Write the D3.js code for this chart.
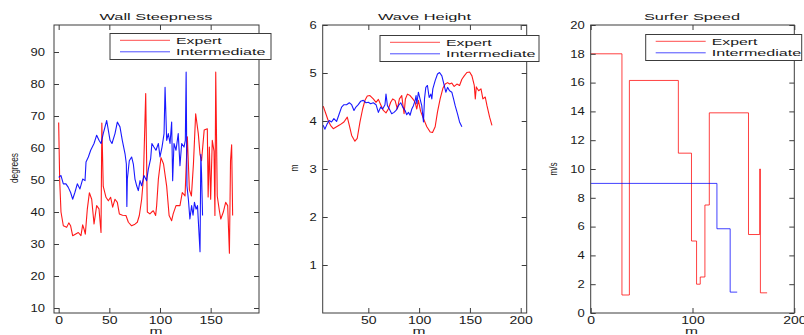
<!DOCTYPE html>
<html>
<head>
<meta charset="utf-8">
<script src="https://cdn.jsdelivr.net/npm/d3@7"></script>
<style>
  body { margin: 0; background: #fff; }
  text { font-family: "Liberation Sans", Arial, sans-serif; fill: #1a1a1a; }
</style>
</head>
<body>
<svg id="chart" width="804" height="335"></svg>
<script>
// ---- data: [distance m, value] ----
const expertWall = [[0,68],[1,50],[2.3,40],[4.6,35.7],[7.9,35.2],[10,36.6],[11.8,35.7],[13.8,32.6],[16,33],[19.4,33.6],
  [22,32.6],[23.7,36],[25,34.7],[26.3,33.1],[28.3,41],[30.3,46],[32.6,44],[34.9,36.3],[37.5,42],[39.8,41],
  [41.8,33.6],[42.6,67.8],[44,48],[46.7,44.6],[49,43.5],[51.3,44.6],[53.3,41.5],[55.6,44],[57.9,43],[59.9,39.4],
  [63,39],[66.4,38.9],[68.8,36.8],[72,35.7],[75.3,36.2],[77.6,36.8],[79.6,38.9],[81.9,44],[83.6,50.3],[85.9,77],
  [87.5,40],[90,39.4],[91.8,40],[93.4,40.4],[95.7,38.9],[96.7,42],[98.4,50.3],[101,57],[103.5,55],[106.6,48],
  [109,38.9],[111.5,37.3],[113,39.4],[115.8,42],[119.7,42],[122,46.1],[124.7,45],[127,63.5],[129,47],[131,45],
  [133,55],[135.2,70.7],[137.8,64.5],[139.5,58],[141,56],[143.6,65.6],[146.7,66],[147.5,44.7],[148.7,60.3],[150,44],
  [151.6,62.4],[153.3,59],[154.2,38.9],[155,83.7],[156.5,45],[158.6,40.4],[160,37.8],[162.5,40],[164.8,43],[166.8,42],
  [168.5,27.1],[169.6,56],[170.7,61],[171.7,38.9]];
const interWall = [[0,50.8],[2.3,51.4],[4.6,48.8],[7.2,48.8],[9.5,47.7],[11.8,46.1],[13.8,44],[16,46.1],[18.4,48.8],[21,47.2],
  [23.7,50.3],[26,49.8],[27,55.6],[29.3,57.2],[31.6,59.3],[34.9,61.4],[37.5,64],[39.8,62.4],[41.8,61.4],[44,64.5],
  [47.4,68.6],[50.7,62.4],[52.6,61.4],[55.6,64.5],[57.9,68.1],[60.5,66.6],[62.8,62.4],[65.5,58.2],[66.8,55],[67.3,41.7],
  [67.8,50.3],[69.7,56],[72,57.2],[73.7,55],[75.3,50.3],[77,48.2],[78.6,46.7],[80.3,49.8],[81.9,48.2],[84.2,51.4],
  [86.8,49.8],[88.5,53.4],[90.8,56.7],[92,61.4],[94,60.3],[96,59.3],[98.4,61.4],[100,57.2],[102,60.3],[104,64.5],
  [105,79],[106.6,62.4],[108.2,64.5],[109.9,61.4],[111.5,68.1],[112.5,49.8],[113.8,61.4],[115.8,59.3],[118,64.5],[119.7,54.5],
  [121.4,61.4],[123.7,60.3],[125,62.4],[125.8,83.7],[126.6,48.2],[128,44],[129.5,37.8],[131.2,42],[132.6,39],[134,43],
  [135.6,40.9],[137,42],[139.5,27.6],[140.3,58],[141,52],[142,38.9]];

const expertWave = [[5.6,4.31],[8.2,4.15],[10.5,4.01],[12.8,3.91],[15.5,3.84],[18.75,3.88],[22,3.92],[26,3.98],[29.3,4.08],[31.3,3.91],
  [33.6,3.7],[36.8,3.58],[39.1,3.64],[41.8,3.98],[44.4,4.25],[46.7,4.43],[49,4.52],[51.6,4.53],[54.9,4.46],[57.6,4.39],
  [59.9,4.45],[62.2,4.34],[64.8,4.22],[67.4,4.17],[69.7,4.25],[72,4.39],[74,4.46],[76.3,4.43],[78.6,4.25],[80.6,4.46],
  [82.9,4.53],[85.2,4.15],[86.5,4.46],[88.5,4.56],[91.1,4.53],[93.8,4.46],[96.1,4.39],[97.7,4.25],[99.3,4.43],[101.5,4.2],
  [104.3,4.05],[107.6,3.88],[110.9,3.77],[113.2,3.76],[115.8,3.88],[118.1,4.19],[120.7,4.46],[123.4,4.68],[125.7,4.77],[128,4.8],
  [130,4.77],[132.2,4.79],[134.5,4.72],[137.2,4.77],[139.8,4.74],[142.1,4.87],[144.4,4.94],[147,5.01],[149.7,5.02],[152,4.94],
  [154.3,4.74],[155.3,4.46],[156.3,4.71],[158.6,4.63],[160.9,4.67],[162.8,4.46],[165.1,4.5],[166.8,4.32],[169.4,4.08],[171.7,3.91]];
const interWave = [[5.6,3.91],[7.2,3.83],[9.5,3.94],[11.5,4.01],[13.8,3.98],[16.1,4.05],[18.75,3.99],[21.4,4.15],[23.7,4.29],[26,4.34],
  [28.6,4.34],[31.3,4.38],[33.6,4.34],[35.9,4.22],[37.8,4.29],[40.1,4.34],[42.4,4.41],[45.1,4.43],[47.7,4.38],[50,4.39],
  [52.3,4.36],[54.9,4.38],[57.6,4.34],[59.9,4.18],[62.2,4.29],[64.1,4.25],[66.4,4.34],[67.4,4.56],[68.8,4.32],[70.7,4.25],
  [73,4.15],[75.3,4.18],[77.3,4.22],[79.6,4.32],[81.9,4.38],[83.9,4.29],[86.2,4.22],[87.8,4.13],[89.5,4.18],[91.1,4.12],
  [92.8,4.25],[94.4,4.32],[96.1,4.43],[97,4.53],[97.7,4.36],[99.3,4.6],[100.9,4.46],[102.6,4.32],[104.3,3.98],[105.3,4.46],
  [106.6,4.7],[108.2,4.74],[109.9,4.49],[111.5,4.56],[112.5,4.46],[113.5,4.67],[115.8,4.84],[118.1,4.98],[120.1,5.01],[122.4,4.94],
  [124.7,4.74],[126.3,4.6],[128,4.7],[130,4.63],[132.2,4.6],[133.9,4.46],[135.5,4.32],[137.8,4.15],[139.8,3.98],[142.1,3.88]];

const expertSpeed = [[0,18],[30.7,1.25],[38,16.15],[86.1,11.1],[99,5],[104,2],[107.6,2.5],[112.2,7.5],[116.5,13.9],
  [155,5.45],[166,10],[166.7,1.4],[173.3,1.4]];
const interSpeed = [[0,9],[124,5.85],[137,1.45],[143.9,1.45]];

const titles = ["Wall Steepness", "Wave Height", "Surfer Speed"];
const yLabels = ["degrees", "m", "m/s"];
const seriesNames = ["Expert", "Intermediate"];
const wallTicksX = [0, 50, 100, 150], wallTicksY = [10, 20, 30, 40, 50, 60, 70, 80, 90];
const waveTicksX = [50, 100, 150, 200], waveTicksY = [1, 2, 3, 4, 5, 6];
const speedTicksX = [0, 100, 200], speedTicksY = [0, 2, 4, 6, 8, 10, 12, 14, 16, 18, 20];

const colors = ["#ff0000", "#0000ff"];

const panels = [
  { left: 54, right: 259, xDomain: [-4.6, 197.7], yDomain: [8.44, 98.44], xTicks: wallTicksX, yTicks: wallTicksY,
    series: [expertWall, interWall], step: false, yPad: 9, titleW: 113, titleX: 156,
    ylab: [18, 168, 30], xlabX: 156, legend: [110, 33.5, 161, 26] },
  { left: 322.7, right: 526.7, xDomain: [5.1, 205.9], yDomain: [0, 6], xTicks: waveTicksX, yTicks: waveTicksY,
    series: [expertWave, interWave], step: false, yPad: 6, titleW: 93, titleX: 424.5,
    ylab: [297.5, 168, 0], xlabX: 419, legend: [380, 35.5, 159, 26] },
  { left: 590.7, right: 794.3, xDomain: [0, 200], yDomain: [0, 20], xTicks: speedTicksX, yTicks: speedTicksY,
    series: [expertSpeed, interSpeed], step: true, yPad: 6, titleW: 96, titleX: 692,
    ylab: [557, 169, 13], xlabX: 691.5, legend: [645.7, 34.5, 156, 26] }
];
const plotTop = 25, plotBottom = 313;

const svg = d3.select("#chart");
svg.append("rect").attr("width", 804).attr("height", 335).attr("fill", "#fff");

function stretch(sel, f) {
  sel.each(function () {
    const len = this.getComputedTextLength();
    if (len > 0) d3.select(this).attr("textLength", len * f).attr("lengthAdjust", "spacingAndGlyphs");
  });
}

panels.forEach((p, i) => {
  const w = p.right - p.left, h = plotBottom - plotTop;
  const x = d3.scaleLinear().domain(p.xDomain).range([0, w]);
  const y = d3.scaleLinear().domain(p.yDomain).range([h, 0]);
  const g = svg.append("g").attr("transform", `translate(${p.left},${plotTop})`);

  const line = d3.line().x(d => x(d[0])).y(d => y(d[1]));
  if (p.step) line.curve(d3.curveStepAfter);

  p.series.forEach((s, k) => {
    g.append("path").datum(s)
      .attr("d", line)
      .attr("fill", "none")
      .attr("stroke", colors[k])
      .attr("stroke-width", p.step ? 1 : 1.1)
      .attr("stroke-opacity", p.step ? 0.75 : 0.9)
      .attr("stroke-linejoin", "round");
  });

  const axisCol = "#3c3c3c";
  const bx = g.append("g").attr("transform", `translate(0,${h})`).attr("color", axisCol).attr("font-size", 9.5)
    .call(d3.axisBottom(x).tickValues(p.xTicks).tickSize(-5).tickPadding(4).tickFormat(d3.format("d")));
  const lx = g.append("g").attr("color", axisCol).attr("font-size", 9.5)
    .call(d3.axisLeft(y).tickValues(p.yTicks).tickSize(-5).tickPadding(p.yPad).tickFormat(d3.format("d")));
  g.append("g").attr("transform", `translate(${w},0)`).attr("color", axisCol)
    .call(d3.axisRight(y).tickValues(p.yTicks).tickSize(-5).tickFormat(() => ""));
  g.append("g").attr("color", axisCol)
    .call(d3.axisTop(x).tickValues(p.xTicks).tickSize(-5).tickFormat(() => ""));
  g.selectAll(".domain").remove();
  stretch(bx.selectAll("text"), 1.4);
  stretch(lx.selectAll("text"), 1.3);

  g.append("rect").attr("width", w).attr("height", h)
    .attr("fill", "none").attr("stroke", axisCol).attr("stroke-width", 1);

  // title
  svg.append("text").attr("x", p.titleX).attr("y", 19.5).attr("text-anchor", "middle")
    .attr("font-size", 9.5).attr("textLength", p.titleW).attr("lengthAdjust", "spacingAndGlyphs")
    .text(titles[i]);

  // axis labels
  svg.append("text").attr("x", p.xlabX).attr("y", 334).attr("text-anchor", "middle")
    .attr("font-size", 9).attr("textLength", 13).attr("lengthAdjust", "spacingAndGlyphs").text("m");
  const yl = svg.append("text")
    .attr("transform", `translate(${p.ylab[0]},${p.ylab[1]}) rotate(-90) scale(1,1.35)`)
    .attr("text-anchor", "middle").attr("font-size", 8.5)
    .text(yLabels[i]);
  if (p.ylab[2]) yl.attr("textLength", p.ylab[2]).attr("lengthAdjust", "spacingAndGlyphs");

  // legend
  const [lx0, ly0, lw, lh] = p.legend;
  const lg = svg.append("g").attr("transform", `translate(${lx0},${ly0})`);
  lg.append("rect").attr("width", lw).attr("height", lh).attr("fill", "#fff")
    .attr("stroke", "#3c3c3c").attr("stroke-width", 1);
  seriesNames.forEach((name, k) => {
    const ry = 6.8 + k * 11.5;
    lg.append("line").attr("x1", 10).attr("x2", 60).attr("y1", ry).attr("y2", ry)
      .attr("stroke", colors[k]).attr("stroke-width", 1).attr("stroke-opacity", 0.7);
    lg.append("text").attr("x", 66).attr("y", ry + 3.5).attr("font-size", 9.5)
      .attr("textLength", k === 0 ? 45.7 : 89.5).attr("lengthAdjust", "spacingAndGlyphs")
      .text(name);
  });
});
</script>
</body>
</html>
